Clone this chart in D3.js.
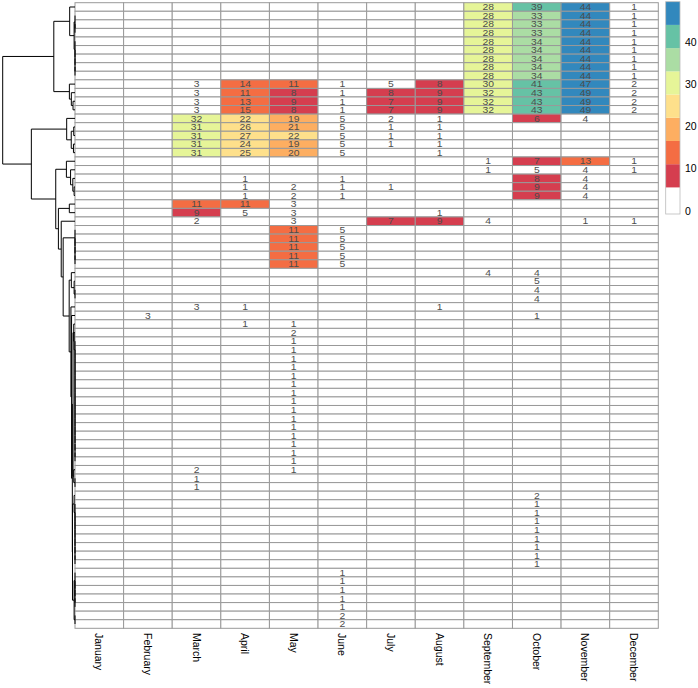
<!DOCTYPE html>
<html><head><meta charset="utf-8">
<script src="https://cdn.jsdelivr.net/npm/d3@7/dist/d3.min.js"></script>
<style>body{margin:0;background:#fff}svg{display:block}</style>
</head><body>
<svg id="c" width="698" height="688"></svg>
<script>
// Column categories
const months = ["January","February","March","April","May","June","July","August","September","October","November","December"];
// One array per month: 73 rows, top to bottom (as displayed)
const jan = [0,0,0,0,0,0,0,0,0,0, 0,0,0,0,0,0,0,0,0,0, 0,0,0,0,0,0,0,0,0,0, 0,0,0,0,0,0,0,0,0,0, 0,0,0,0,0,0,0,0,0,0, 0,0,0,0,0,0,0,0,0,0, 0,0,0,0,0,0,0,0,0,0, 0,0,0];
const feb = [0,0,0,0,0,0,0,0,0,0, 0,0,0,0,0,0,0,0,0,0, 0,0,0,0,0,0,0,0,0,0, 0,0,0,0,0,0,3,0,0,0, 0,0,0,0,0,0,0,0,0,0, 0,0,0,0,0,0,0,0,0,0, 0,0,0,0,0,0,0,0,0,0, 0,0,0];
const mar = [0,0,0,0,0,0,0,0,0,3, 3,3,3,32,31,31,31,31,0,0, 0,0,0,11,9,2,0,0,0,0, 0,0,0,0,0,3,0,0,0,0, 0,0,0,0,0,0,0,0,0,0, 0,0,0,0,2,1,1,0,0,0, 0,0,0,0,0,0,0,0,0,0, 0,0,0];
const apr = [0,0,0,0,0,0,0,0,0,14, 11,13,15,22,26,27,24,25,0,0, 1,1,1,11,5,0,0,0,0,0, 0,0,0,0,0,1,0,1,0,0, 0,0,0,0,0,0,0,0,0,0, 0,0,0,0,0,0,0,0,0,0, 0,0,0,0,0,0,0,0,0,0, 0,0,0];
const may = [0,0,0,0,0,0,0,0,0,11, 8,9,8,19,21,22,19,20,0,0, 0,2,2,3,3,3,11,11,11,11, 11,0,0,0,0,0,0,1,2,1, 1,1,1,1,1,1,1,1,1,1, 1,1,1,1,1,0,0,0,0,0, 0,0,0,0,0,0,0,0,0,0, 0,0,0];
const jun = [0,0,0,0,0,0,0,0,0,1, 1,1,1,5,5,5,5,5,0,0, 1,1,1,0,0,0,5,5,5,5, 5,0,0,0,0,0,0,0,0,0, 0,0,0,0,0,0,0,0,0,0, 0,0,0,0,0,0,0,0,0,0, 0,0,0,0,0,0,1,1,1,1, 1,2,2];
const jul = [0,0,0,0,0,0,0,0,0,5, 8,7,7,2,1,1,1,0,0,0, 0,1,0,0,0,7,0,0,0,0, 0,0,0,0,0,0,0,0,0,0, 0,0,0,0,0,0,0,0,0,0, 0,0,0,0,0,0,0,0,0,0, 0,0,0,0,0,0,0,0,0,0, 0,0,0];
const aug = [0,0,0,0,0,0,0,0,0,8, 9,9,9,1,1,1,1,1,0,0, 0,0,0,0,1,9,0,0,0,0, 0,0,0,0,0,1,0,0,0,0, 0,0,0,0,0,0,0,0,0,0, 0,0,0,0,0,0,0,0,0,0, 0,0,0,0,0,0,0,0,0,0, 0,0,0];
const sep = [28,28,28,28,28,28,28,28,28,30, 32,32,32,0,0,0,0,0,1,1, 0,0,0,0,0,4,0,0,0,0, 0,4,0,0,0,0,0,0,0,0, 0,0,0,0,0,0,0,0,0,0, 0,0,0,0,0,0,0,0,0,0, 0,0,0,0,0,0,0,0,0,0, 0,0,0];
const oct = [39,33,33,33,34,34,34,34,34,41, 43,43,43,6,0,0,0,0,7,5, 8,9,9,0,0,0,0,0,0,0, 0,4,5,4,4,0,1,0,0,0, 0,0,0,0,0,0,0,0,0,0, 0,0,0,0,0,0,0,2,1,1, 1,1,1,1,1,1,0,0,0,0, 0,0,0];
const nov = [44,44,44,44,44,44,44,44,44,47, 49,49,49,4,0,0,0,0,13,4, 4,4,4,0,0,1,0,0,0,0, 0,0,0,0,0,0,0,0,0,0, 0,0,0,0,0,0,0,0,0,0, 0,0,0,0,0,0,0,0,0,0, 0,0,0,0,0,0,0,0,0,0, 0,0,0];
const dec = [1,1,1,1,1,1,1,1,1,2, 2,2,2,0,0,0,0,0,1,1, 0,0,0,0,0,1,0,0,0,0, 0,0,0,0,0,0,0,0,0,0, 0,0,0,0,0,0,0,0,0,0, 0,0,0,0,0,0,0,0,0,0, 0,0,0,0,0,0,0,0,0,0, 0,0,0];
// Colour bins
const breaks = [5.5, 11, 16.5, 22, 27.5, 33, 38.5, 44];
const legendRange = [-0.8, 49.5];
const palette = ["#FFFFFF","#D53E4F","#F46D43","#FDAE61","#FEE08B","#E6F598","#ABDDA4","#66C2A5","#3288BD"];
const legendTicks = [0, 10, 20, 30, 40];

const series = [jan,feb,mar,apr,may,jun,jul,aug,sep,oct,nov,dec];
const nRows = jan.length;
const rowIdx = d3.range(nRows);
const svg = d3.select("#c");
const FONT = "'Liberation Sans', Arial, Helvetica, sans-serif";

const x = d3.scaleBand().domain(months).range([75, 658.3]);
const y = d3.scaleBand().domain(rowIdx).range([2.7, 628.3]);
const color = d3.scaleThreshold().domain(breaks).range(palette);

const cells = [];
months.forEach((m, j) => series[j].forEach((v, i) => cells.push({m, i, v})));

svg.append("g").selectAll("rect").data(cells).join("rect")
  .attr("x", d => x(d.m)).attr("y", d => y(d.i))
  .attr("width", x.bandwidth()).attr("height", y.bandwidth())
  .attr("fill", d => color(d.v)).attr("stroke", "#999").attr("stroke-width", 1);

svg.append("g").selectAll("g").data(cells.filter(d => d.v !== 0)).join("g")
  .attr("transform", d => `translate(${x(d.m) + x.bandwidth()/2},${y(d.i) + y.bandwidth()/2}) scale(1.15,1)`)
  .append("text")
  .attr("text-anchor", "middle").attr("dominant-baseline", "central")
  .attr("font-family", FONT).attr("font-size", 9).attr("fill", "#4d4d4d")
  .text(d => d.v);

// Column labels
svg.append("g").selectAll("text").data(months).join("text")
  .attr("transform", d => `translate(${x(d) + x.bandwidth()/2},633) rotate(90)`)
  .attr("text-anchor", "start").attr("dominant-baseline", "central")
  .attr("font-family", FONT).attr("font-size", 10.5).attr("fill", "#000")
  .text(d => d);

// Row dendrogram: complete linkage, Euclidean distance, order as displayed
const rowsVec = rowIdx.map(i => series.map(s => s[i]));
const D = rowsVec.map(a => rowsVec.map(b => Math.sqrt(d3.sum(a, (v, k) => (v - b[k]) ** 2))));
let clusters = rowIdx.map(i => ({leaves: [i], h: 0, y: y(i) + y.bandwidth()/2}));
function linkage(A, B) { let m = 0; for (const i of A.leaves) for (const j of B.leaves) m = Math.max(m, D[i][j]); return m; }
while (clusters.length > 1) {
  let best = Infinity, bi = 0;
  for (let k = 0; k < clusters.length - 1; k++) {
    const d = linkage(clusters[k], clusters[k + 1]);
    if (d <= best + 1e-9) { best = d; bi = k; }
  }
  const A = clusters[bi], B = clusters[bi + 1];
  clusters.splice(bi, 2, {leaves: A.leaves.concat(B.leaves), h: best, y: (A.y + B.y) / 2, children: [A, B]});
}
const root = d3.hierarchy(clusters[0]);
const xd = d3.scaleLinear().domain([0, root.data.h]).range([75, 2.7]);
svg.append("g").selectAll("path").data(root.descendants().filter(n => n.children)).join("path")
  .attr("d", n => {
    const [c1, c2] = n.children.map(c => c.data);
    return `M${xd(c1.h)},${c1.y}H${xd(n.data.h)}V${c2.y}H${xd(c2.h)}`;
  })
  .attr("fill", "none").attr("stroke", "#000").attr("stroke-width", 1);

// Legend
const yl = d3.scaleLinear().domain(legendRange).range([214, 1.7]);
const lo = [legendRange[0], ...breaks], hi = [...breaks, legendRange[1]];
const lg = svg.append("g");
lg.selectAll("rect").data(palette).join("rect")
  .attr("x", 665.7).attr("width", 14.3)
  .attr("y", (c, i) => yl(hi[i])).attr("height", (c, i) => yl(lo[i]) - yl(hi[i]))
  .attr("fill", c => c);
lg.append("rect").attr("x", 665.7).attr("width", 14.3).attr("y", yl(legendRange[1]))
  .attr("height", yl(legendRange[0]) - yl(legendRange[1])).attr("fill", "none")
  .attr("stroke", "#bbb").attr("stroke-width", 0.8);
lg.selectAll("text").data(legendTicks).join("text")
  .attr("x", 685).attr("y", d => yl(d)).attr("dominant-baseline", "central")
  .attr("font-family", FONT).attr("font-size", 10.5).attr("fill", "#000")
  .text(d => d);
</script>
</body></html>
